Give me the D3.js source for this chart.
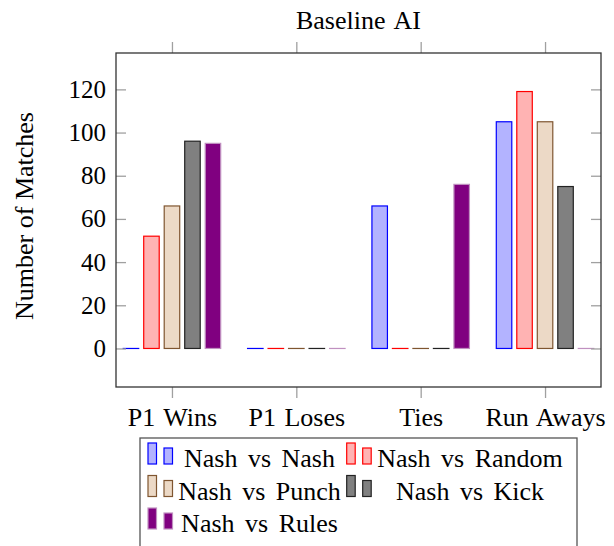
<!DOCTYPE html>
<html>
<head>
<meta charset="utf-8">
<script src="https://cdn.jsdelivr.net/npm/d3@7"></script>
<style>
  body { margin: 0; background: #fff; }
  text { font-family: "Liberation Serif", "Times New Roman", serif; fill: #000; }
</style>
</head>
<body>
<svg id="chart"></svg>
<script>
// Chart data
const categories = ["P1 Wins", "P1 Loses", "Ties", "Run Aways"];
const seriesNames = ["Nash vs Nash", "Nash vs Random", "Nash vs Punch", "Nash vs Kick", "Nash vs Rules"];
const nashVsNash = [0, 0, 66, 105];
const nashVsRandom = [52, 0, 0, 119];
const nashVsPunch = [66, 0, 0, 105];
const nashVsKick = [96, 0, 0, 75];
const nashVsRules = [95, 0, 76, 0];
const yTicks = [0, 20, 40, 60, 80, 100, 120];

const seriesValues = [nashVsNash, nashVsRandom, nashVsPunch, nashVsKick, nashVsRules];

// Styles per series (stroke, fill)
const strokes = ["#0000ff", "#ff0000", "#7f5530", "#222222", "#c090c0"];
const fills = ["#b3b3ff", "#ffb3b3", "#ecd9c6", "#808080", "#800080"];

const width = 614;
const height = 546;
const plotLeft = 116;
const plotRight = 601;
const plotTop = 53;
const plotBottom = 387;

const barWidth = 15.5;
const barStep = 20.5;

const svg = d3.select("#chart")
    .attr("width", width)
    .attr("height", height);

// Scales (category index along x, enlarged limits like pgfplots)
const xScale = d3.scaleLinear()
    .domain([-0.45, categories.length - 1 + 0.45])
    .range([plotLeft, plotRight]);

const yScale = d3.scaleLinear()
    .domain([-17.85, 136.85])
    .range([plotBottom, plotTop]);

// Bars (zero values still show as a thin line)
seriesValues.forEach((values, s) => {
    const offset = (s - (seriesValues.length - 1) / 2) * barStep;
    svg.append("g")
        .selectAll("rect")
        .data(values)
        .enter()
        .append("rect")
        .attr("x", (d, i) => xScale(i) + offset - barWidth / 2)
        .attr("y", (d) => yScale(d))
        .attr("width", barWidth)
        .attr("height", (d) => Math.max(yScale(0) - yScale(d), 0.01))
        .attr("fill", fills[s])
        .attr("stroke", strokes[s])
        .attr("stroke-width", 1.2);
});

// Y axis, ticks pointing inward on both sides
const yAxis = d3.axisLeft(yScale)
    .tickValues(yTicks)
    .tickSize(-10)
    .tickPadding(10);

const yAxisGroup = svg.append("g")
    .attr("transform", "translate(" + plotLeft + ", 0)")
    .call(yAxis);
yAxisGroup.select(".domain").remove();
yAxisGroup.selectAll(".tick line").attr("stroke", "#a0a0a0").attr("stroke-width", 1.3);
yAxisGroup.selectAll(".tick text")
    .style("font-size", "25px")
    .style("font-family", "'Liberation Serif', serif");

const yAxisRight = svg.append("g")
    .attr("transform", "translate(" + plotRight + ", 0)")
    .call(d3.axisRight(yScale).tickValues(yTicks).tickSize(-10).tickFormat(""));
yAxisRight.select(".domain").remove();
yAxisRight.selectAll(".tick line").attr("stroke", "#a0a0a0").attr("stroke-width", 1.3);

// X axis, ticks outside at top and bottom
const xAxis = d3.axisBottom(xScale)
    .tickValues(d3.range(categories.length))
    .tickFormat((i) => categories[i])
    .tickSize(11)
    .tickPadding(10);

const xAxisGroup = svg.append("g")
    .attr("transform", "translate(0, " + plotBottom + ")")
    .call(xAxis);
xAxisGroup.select(".domain").remove();
xAxisGroup.selectAll(".tick line").attr("stroke", "#a0a0a0").attr("stroke-width", 1.3);
xAxisGroup.selectAll(".tick text")
    .style("font-size", "26px")
    .style("word-spacing", "2px")
    .style("font-family", "'Liberation Serif', serif");

const xAxisTop = svg.append("g")
    .attr("transform", "translate(0, " + plotTop + ")")
    .call(d3.axisTop(xScale).tickValues(d3.range(categories.length)).tickSize(11).tickFormat(""));
xAxisTop.select(".domain").remove();
xAxisTop.selectAll(".tick line").attr("stroke", "#a0a0a0").attr("stroke-width", 1.3);

// Plot frame
svg.append("rect")
    .attr("x", plotLeft)
    .attr("y", plotTop)
    .attr("width", plotRight - plotLeft)
    .attr("height", plotBottom - plotTop)
    .attr("fill", "none")
    .attr("stroke", "#333")
    .attr("stroke-width", 1.3);

// Title and axis label
svg.append("text")
    .attr("x", (plotLeft + plotRight) / 2)
    .attr("y", 28.5)
    .attr("text-anchor", "middle")
    .style("font-size", "26px")
    .style("word-spacing", "3px")
    .text("Baseline AI");

svg.append("text")
    .attr("transform", "translate(33, 216) rotate(-90)")
    .attr("text-anchor", "middle")
    .style("font-size", "26px")
    .text("Number of Matches");

// Legend, two columns like pgfplots
const legendX = 140;
const legendY = 438;
const colCenters = [259.5, 470];
const colSymbolX = [148, 346.7];
const rowY = [458, 490.5, 523];

const legend = svg.append("g").attr("id", "legend");

legend.append("rect")
    .attr("x", legendX)
    .attr("y", legendY)
    .attr("width", 437)
    .attr("height", 130)
    .attr("fill", "#fff")
    .attr("stroke", "#555")
    .attr("stroke-width", 1.3);

seriesNames.forEach((name, s) => {
    const col = s % 2;
    const row = Math.floor(s / 2);
    const baseY = rowY[row] + 6;
    // two little bars of different heights
    [[0, 21], [16, 16]].forEach(([dx, h]) => {
        legend.append("rect")
            .attr("x", colSymbolX[col] + dx)
            .attr("y", baseY - h)
            .attr("width", 8.5)
            .attr("height", h)
            .attr("fill", fills[s])
            .attr("stroke", strokes[s])
            .attr("stroke-width", 1.2);
    });
    legend.append("text")
        .attr("x", colCenters[col])
        .attr("y", rowY[row] + 9)
        .attr("text-anchor", "middle")
        .style("font-size", "26px")
        .style("word-spacing", "4px")
        .text(name);
});
</script>
</body>
</html>
